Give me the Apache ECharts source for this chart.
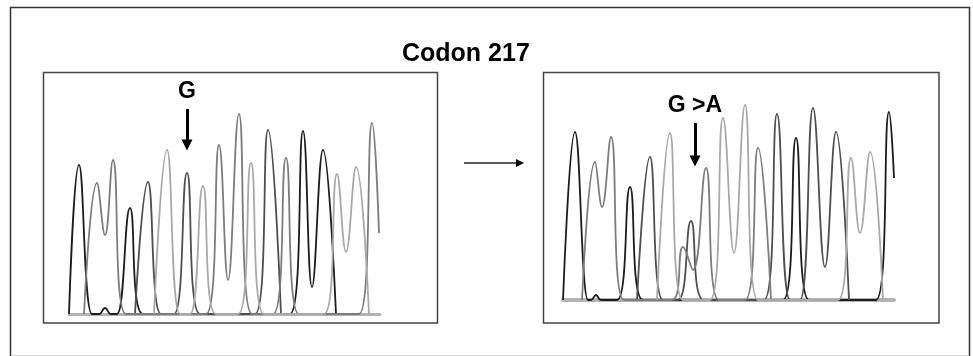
<!DOCTYPE html>
<html>
<head>
<meta charset="utf-8">
<script src="https://cdn.jsdelivr.net/npm/echarts@6/dist/echarts.min.js"></script>
<style>
  html, body { margin: 0; padding: 0; background: #fff; }
  #main { width: 973px; height: 356px; }
</style>
</head>
<body>
<div id="main"></div>
<script>
// trace points: [scan position, signal]
// left panel = wild type, right panel = G>A at codon 217
const leftBlack = [[0,0],[10,149],[23,0],[30,0],[36,6],[42,0],[48,0],[61,106],[74,0],[221,0],[234,183],[243,27],[254,164],[267,0]];
const leftDark = [[66,0],[79,132],[92,0],[105,0],[118,141],[131,0],[186,0],[199,184],[212,0]];
const leftMid = [[15,0],[28,131],[36,79],[44,154],[57,0],[137,0],[150,169],[159,34],[170,200],[183,0],[204,0],[217,156],[230,0],[290,0],[303,191],[310,81]];
const leftLight = [[85,0],[98,164],[111,0],[121,0],[134,128],[147,0],[169,0],[182,151],[195,0],[255,0],[268,140],[277,62],[287,147],[300,0]];

const rightBlack = [[0,0],[12,168],[25,0],[28,0],[33,5],[38,0],[54,0],[67,113],[80,0],[220,0],[233,162],[246,0],[313,0],[326,188],[331,122]];
const rightDark = [[74,0],[87,143],[100,0],[115,0],[128,79],[141,0],[201,0],[214,186],[227,0],[237,0],[250,192],[262,33],[273,168],[286,0]];
const rightMid = [[19,0],[32,138],[39,93],[48,163],[61,0],[109,0],[120,53],[130,30],[143,132],[156,0],[182,0],[195,152],[208,0]];
const rightLight = [[94,0],[107,167],[120,0],[147,0],[160,182],[171,47],[182,195],[195,0],[275,0],[288,142],[297,67],[307,148],[320,0]];

const traceColors = ['#1c1c1c', '#4f4f4f', '#7d7d7d', '#a9a9a9'];

// base call markers: [label, position, label height, arrow top, arrow tip]
const leftCall = ['G', 118, 222, 205, 169];
const rightCall = ['G >A', 132, 194, 177, 139];

const FONT = 'Liberation Sans, Arial, sans-serif';

let myChart = echarts.init(document.getElementById('main'));

function trace(data, color, idx) {
  return {
    type: 'line',
    data: data,
    xAxisIndex: idx,
    yAxisIndex: idx,
    smooth: 0.45,
    showSymbol: false,
    silent: true,
    lineStyle: { color: color, width: 1.8 }
  };
}

function callMarker(call, idx) {
  return {
    type: 'line',
    data: [],
    xAxisIndex: idx,
    yAxisIndex: idx,
    silent: true,
    markLine: {
      silent: true,
      symbol: ['none', 'triangle'],
      symbolSize: 11,
      label: { show: false },
      lineStyle: { color: '#000', width: 3, type: 'solid' },
      data: [[{ coord: [call[1], call[3]] }, { coord: [call[1], call[4]] }]]
    },
    markPoint: {
      silent: true,
      symbol: 'circle',
      symbolSize: 0,
      label: {
        show: true,
        position: 'inside',
        formatter: call[0],
        color: '#000',
        fontFamily: FONT,
        fontWeight: 'bold',
        fontSize: 23
      },
      data: [{ coord: [call[1], call[2]] }]
    }
  };
}

function xAxis(max, idx, width) {
  return {
    type: 'value', gridIndex: idx, min: 0, max: max,
    axisLine: { show: true, lineStyle: { color: '#b4b4b4', width: width } },
    axisTick: { show: false }, axisLabel: { show: false }, splitLine: { show: false }
  };
}

function yAxis(max, idx) {
  return {
    type: 'value', gridIndex: idx, min: 0, max: max,
    axisLine: { show: false }, axisTick: { show: false },
    axisLabel: { show: false }, splitLine: { show: false }
  };
}

const option = {
  animation: false,
  backgroundColor: '#fff',
  title: {
    text: 'Codon 217',
    left: 397,
    top: 37,
    textStyle: { fontFamily: FONT, fontWeight: 'bold', fontSize: 25, color: '#000' }
  },
  grid: [
    { left: 69, top: 64, width: 311, height: 250 },
    { left: 563, top: 80, width: 331, height: 220 }
  ],
  xAxis: [xAxis(311, 0, 3), xAxis(331, 1, 4)],
  yAxis: [yAxis(250, 0), yAxis(220, 1)],
  graphic: [
    {
      type: 'polyline',
      shape: { points: [[10.5, 356], [10.5, 7.5], [969.5, 7.5], [969.5, 356]] },
      style: { stroke: '#333', lineWidth: 1.5, fill: null }
    },
    {
      type: 'line',
      shape: { x1: 11, y1: 355.5, x2: 969, y2: 355.5 },
      style: { stroke: '#d8d8d8', lineWidth: 1 }
    },
    {
      type: 'rect',
      shape: { x: 43.5, y: 72.5, width: 394, height: 250.5 },
      style: { stroke: '#444', lineWidth: 1.5, fill: null }
    },
    {
      type: 'rect',
      shape: { x: 543.5, y: 72.5, width: 395.5, height: 250.5 },
      style: { stroke: '#444', lineWidth: 1.5, fill: null }
    },
    {
      type: 'line',
      shape: { x1: 464, y1: 163, x2: 517, y2: 163 },
      style: { stroke: '#222', lineWidth: 1.3 }
    },
    {
      type: 'polygon',
      shape: { points: [[516, 159], [524, 163], [516, 167]] },
      style: { fill: '#000' }
    }
  ],
  series: [
    trace(leftBlack, traceColors[0], 0),
    trace(leftDark, traceColors[1], 0),
    trace(leftMid, traceColors[2], 0),
    trace(leftLight, traceColors[3], 0),
    trace(rightBlack, traceColors[0], 1),
    trace(rightDark, traceColors[1], 1),
    trace(rightMid, traceColors[2], 1),
    trace(rightLight, traceColors[3], 1),
    callMarker(leftCall, 0),
    callMarker(rightCall, 1)
  ]
};

myChart && myChart.setOption(option);
</script>
</body>
</html>
